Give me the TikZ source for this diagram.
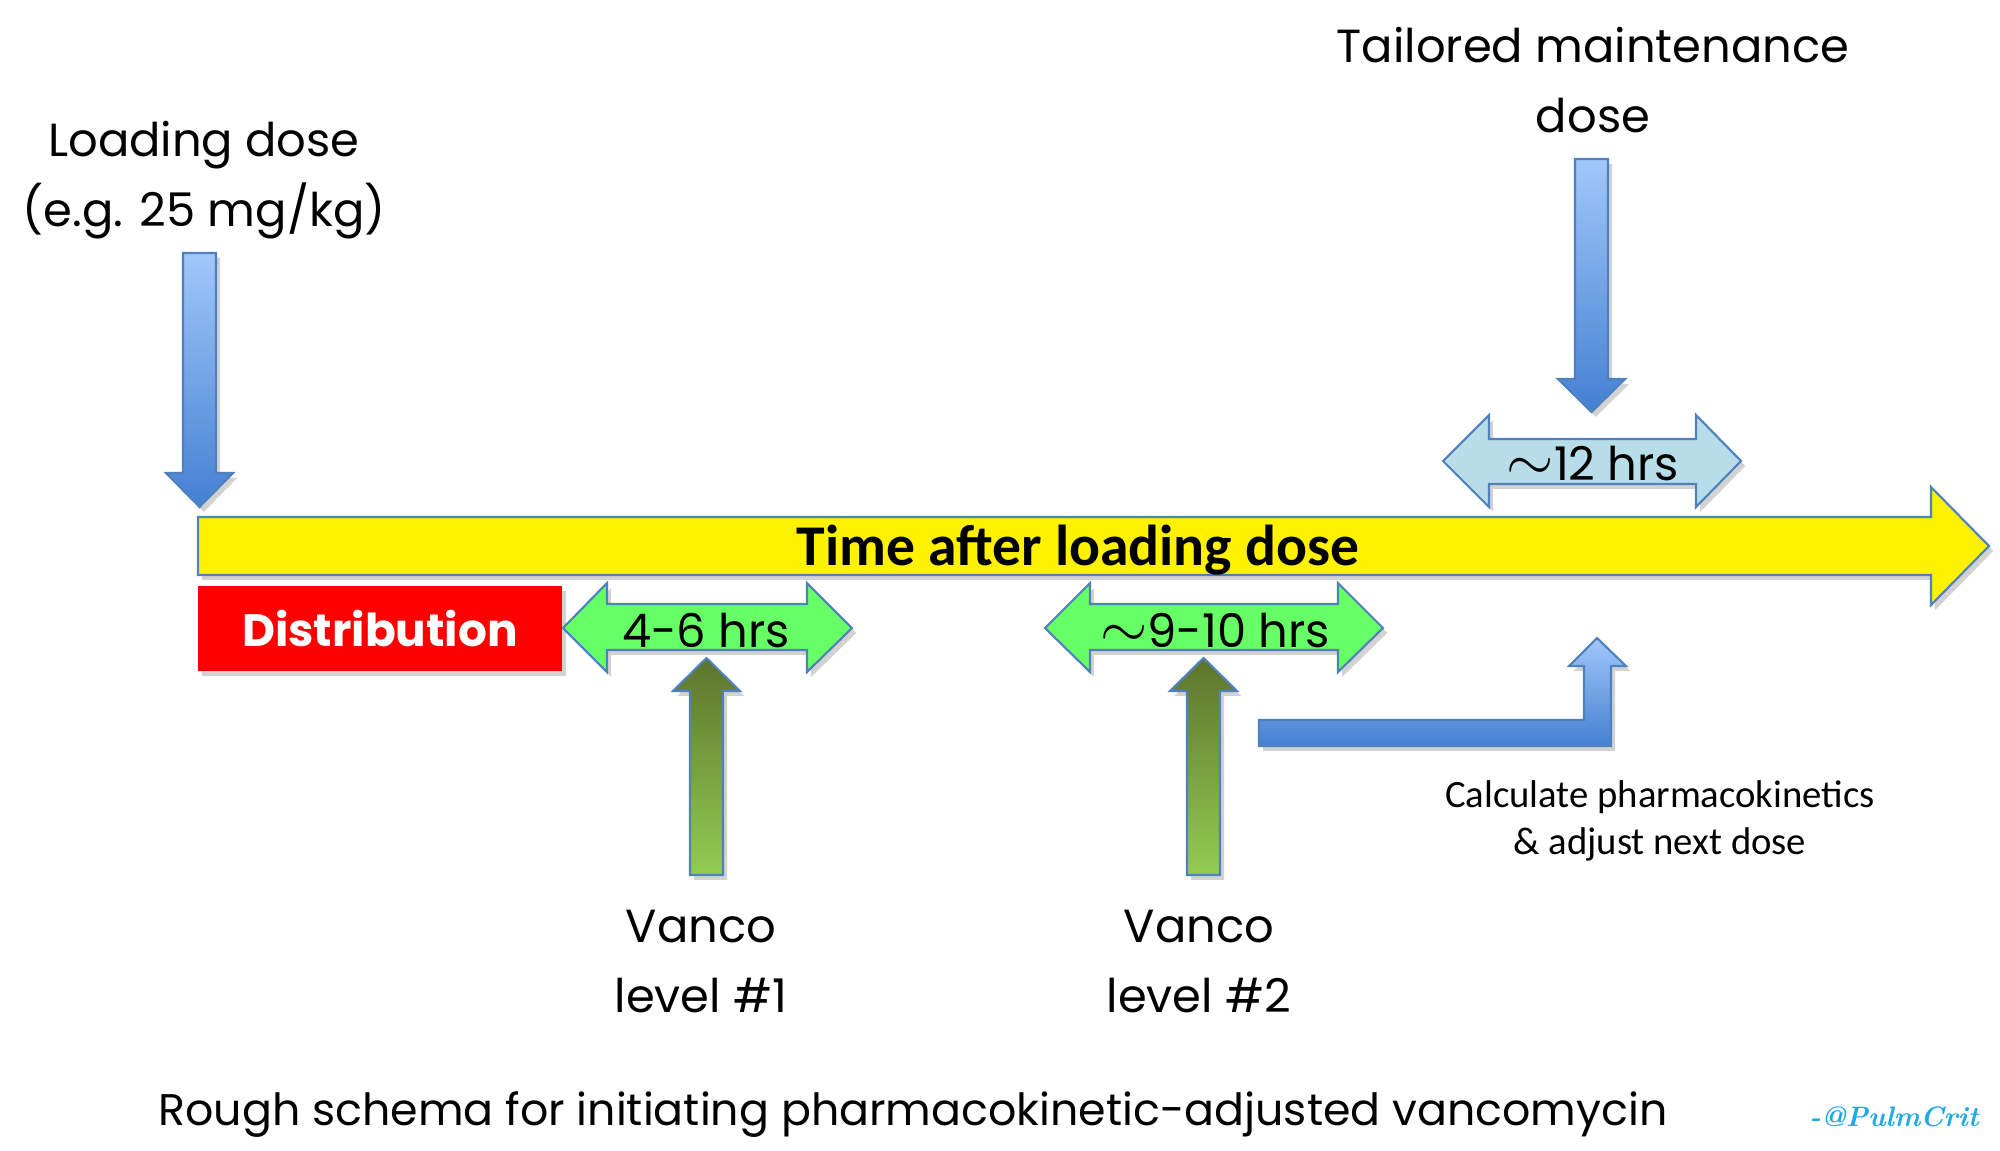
\documentclass[tikz,border=0pt]{standalone}
\usepackage{fontspec}
\setmainfont{Poppins}
\newfontfamily\calibri{Carlito}
\newfontfamily\signature{Latin Modern Roman}
\usepackage{tikz}
\usetikzlibrary{shadows}

\definecolor{bleubord}{RGB}{79,129,189}
\definecolor{bleuclair}{RGB}{160,200,250}
\definecolor{bleufonce}{RGB}{68,128,210}
\definecolor{vertfonce}{RGB}{92,116,44}
\definecolor{vertclair}{RGB}{148,204,82}
\definecolor{vertvif}{RGB}{102,255,102}
\definecolor{bleuciel}{RGB}{183,221,232}
\definecolor{rouge}{RGB}{255,0,0}
\definecolor{cyansig}{RGB}{30,170,230}

\begin{document}
\begin{tikzpicture}[x=0.01cm,y=-0.01cm,
	contour/.style={draw=bleubord, line width=0.6pt},
	ombre/.style={drop shadow={shadow xshift=1.2pt, shadow yshift=-1.4pt, opacity=0.25, fill=black!70}},
	flechebleue/.style={contour, ombre, top color=bleuclair, bottom color=bleufonce},
	flecheverte/.style={contour, ombre, top color=vertfonce, bottom color=vertclair},
	texte/.style={font=\fontsize{13.2}{19.9}\selectfont, align=center, inner sep=0pt}]

%%%%%%%%%%%%%%%%%%%%%%
%%%	 Def géométrie  %%%
%%%%%%%%%%%%%%%%%%%%%%

\def \demitige{16.5}
\def \demitete{33.5}
\def \xcharge{199.5}
\def \xentretien{1591.5}
\def \xdosageun{706.5}
\def \xdosagedeux{1203.5}
\def \ybasvert{875}
\def \tilde{{\fontsize{16}{16}\selectfont$\sim$}}

\useasboundingbox (0,0) rectangle (2000,1150);

%%%%%%%%%%%%%%%%%%%%%%
%%%	    Dessin      %%%
%%%%%%%%%%%%%%%%%%%%%%

% Flèche du temps
\path[contour, ombre, fill=yellow] (198,517) -- (1931,517) -- (1931,487) -- (1989,546)
	-- (1931,605) -- (1931,575) -- (198,575) -- cycle;
\node[font=\calibri\bfseries\fontsize{16.4}{20}\selectfont, anchor=base, inner sep=0pt] (temps) at (1078,565) {Time after loading dose};

% Dose de charge (la base d'un noeud sur deux lignes est celle de la dernière)
\path[flechebleue] (\xcharge-\demitige,253) -- (\xcharge+\demitige,253) -- (\xcharge+\demitige,473)
	-- (\xcharge+\demitete,473) -- (\xcharge,507) -- (\xcharge-\demitete,473) -- (\xcharge-\demitige,473) -- cycle;
\node[texte, anchor=base] (charge) at (204,226) {Loading dose\\(e.g. 25 mg/kg)};

% Dose d'entretien
\path[flechebleue] (\xentretien-\demitige,159) -- (\xentretien+\demitige,159) -- (\xentretien+\demitige,379)
	-- (\xentretien+\demitete,379) -- (\xentretien,412) -- (\xentretien-\demitete,379) -- (\xentretien-\demitige,379) -- cycle;
\node[texte, anchor=base] (entretien) at (1593,132) {Tailored maintenance\\dose};

% Intervalle de 12 heures
\path[contour, ombre, fill=bleuciel] (1443,461) -- (1489,415) -- (1489,439) -- (1696,439) -- (1696,415)
	-- (1741,461) -- (1696,507) -- (1696,484) -- (1489,484) -- (1489,507) -- cycle;
\node[texte, anchor=base] (douze) at (1593,480) {\tilde12 hrs};

% Phase de distribution
\node[fill=rouge, ombre, minimum width=3.64cm, minimum height=0.85cm, inner sep=0pt,
	text=white, font=\bfseries\fontsize{12.9}{16}\selectfont] (distribution) at (380,628.5) {Distribution};

% Intervalles des deux dosages
\path[contour, ombre, fill=vertvif] (563,628) -- (607,583) -- (607,604) -- (807,604) -- (807,583)
	-- (852,628) -- (807,672) -- (807,650) -- (607,650) -- (607,672) -- cycle;
\node[texte, anchor=base] (quatre) at (706,647) {4-6 hrs};

\path[contour, ombre, fill=vertvif] (1045,628) -- (1090,583) -- (1090,604) -- (1338,604) -- (1338,583)
	-- (1383,628) -- (1338,672) -- (1338,650) -- (1090,650) -- (1090,672) -- cycle;
\node[texte, anchor=base] (neuf) at (1215,647) {\tilde9-10 hrs};

% Flèches des dosages
\path[flecheverte] (\xdosageun-\demitige,\ybasvert) -- (\xdosageun-\demitige,691) -- (\xdosageun-\demitete,691)
	-- (\xdosageun,658) -- (\xdosageun+\demitete,691) -- (\xdosageun+\demitige,691) -- (\xdosageun+\demitige,\ybasvert) -- cycle;
\node[texte, anchor=base] (dosageun) at (701,1012) {Vanco\\level \#1};

\path[flecheverte] (\xdosagedeux-\demitige,\ybasvert) -- (\xdosagedeux-\demitige,691) -- (\xdosagedeux-\demitete,691)
	-- (\xdosagedeux,658) -- (\xdosagedeux+\demitete,691) -- (\xdosagedeux+\demitige,691) -- (\xdosagedeux+\demitige,\ybasvert) -- cycle;
\node[texte, anchor=base] (dosagedeux) at (1199,1012) {Vanco\\level \#2};

% Retour vers la dose suivante
\path[flechebleue] (1259,720) -- (1584,720) -- (1584,666) -- (1569,666) -- (1597,638) -- (1626,666)
	-- (1611,666) -- (1611,746) -- (1259,746) -- cycle;
\node[font=\calibri\fontsize{11}{13.1}\selectfont, align=center, anchor=base, inner sep=0pt] (calcul) at (1660,854)
	{Calculate pharmacokinetics\\\& adjust next dose};

%%%%%%%%%%%%%%%%%%%%%%
%%%	    Légende     %%%
%%%%%%%%%%%%%%%%%%%%%%

\node[font=\fontsize{12.6}{15}\selectfont, anchor=base, inner sep=0pt] (titre) at (913,1125) {Rough schema for initiating pharmacokinetic-adjusted vancomycin};
\node[font=\signature\itshape\bfseries\fontsize{8}{10}\selectfont, text=cyansig, anchor=base, inner sep=0pt] (auteur) at (1894,1126) {-@PulmCrit};

\end{tikzpicture}
\end{document}
